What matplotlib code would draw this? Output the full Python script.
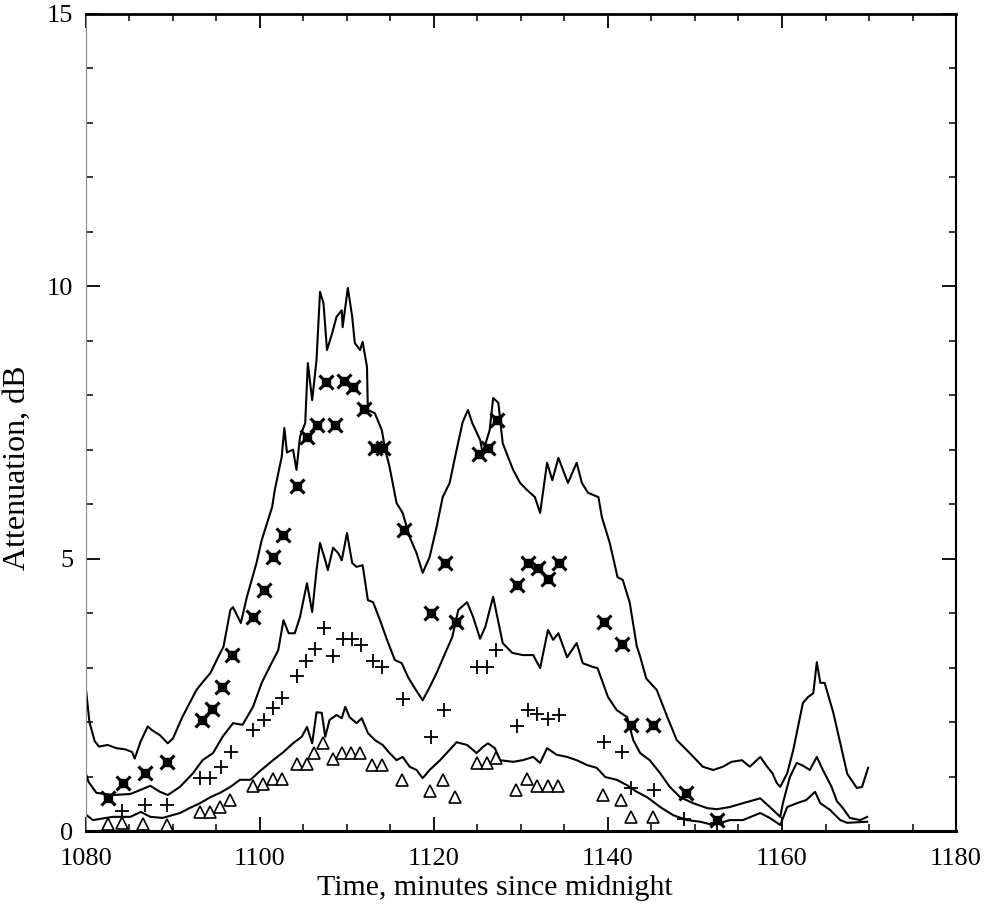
import matplotlib
matplotlib.use("Agg")
import matplotlib.pyplot as plt
from matplotlib.ticker import MultipleLocator

plt.rcParams['font.family'] = ['Liberation Serif', 'DejaVu Serif']

# ---- data: three attenuation traces ----
top_t = [1080.0, 1080.4, 1081.0, 1081.5, 1082.5, 1083.5, 1084.5, 1085.3, 1085.6, 1086.3, 1087.1, 1087.6,
         1088.5, 1089.4, 1090.0, 1091.1, 1092.7, 1093.5, 1094.3, 1095.4, 1095.8, 1096.6, 1096.9, 1097.4,
         1097.8, 1098.5, 1099.6, 1100.2, 1101.4, 1101.7, 1102.5, 1102.8, 1103.1, 1103.8, 1104.2, 1104.6,
         1105.2, 1105.5, 1106.0, 1106.5, 1106.9, 1107.3, 1107.7, 1108.3, 1108.8, 1109.4, 1109.5, 1110.1,
         1110.6, 1110.9, 1111.5, 1111.8, 1112.3, 1112.4, 1113.2, 1114.0, 1114.4, 1114.9, 1115.7, 1116.4,
         1117.2, 1118.0, 1118.7, 1119.5, 1120.3, 1121.0, 1121.8, 1122.6, 1123.3, 1123.9, 1124.4, 1125.3,
         1125.6, 1126.4, 1126.8, 1127.4, 1127.9, 1128.5, 1129.1, 1129.9, 1130.7, 1131.6, 1132.2, 1133.0,
         1133.6, 1134.3, 1135.4, 1136.4, 1137.0, 1137.7, 1138.9, 1139.3, 1140.2, 1141.1, 1141.7, 1142.5,
         1143.3, 1143.7, 1144.4, 1145.6, 1146.8, 1147.9, 1149.4, 1150.9, 1152.1, 1153.2, 1154.2, 1155.4,
         1156.3, 1157.5, 1158.3, 1158.9, 1159.4, 1159.8, 1160.6, 1161.3, 1162.4, 1163.0, 1163.6, 1164.0,
         1164.4, 1164.9, 1165.9, 1166.7, 1167.5, 1168.6, 1169.2, 1169.9]
top_v = [2.60, 2.00, 1.65, 1.55, 1.58, 1.52, 1.50, 1.45, 1.33, 1.65, 1.92, 1.85,
         1.76, 1.61, 1.70, 2.10, 2.59, 2.75, 2.90, 3.26, 3.38, 4.06, 4.11, 3.95,
         3.82, 4.30, 4.92, 5.34, 5.95, 6.26, 6.87, 7.40, 6.95, 7.00, 6.63, 7.24,
         7.49, 8.59, 7.91, 8.65, 9.90, 9.69, 8.83, 9.14, 9.44, 9.56, 9.25, 9.97,
         9.44, 8.96, 8.83, 8.98, 8.52, 7.73, 7.67, 7.36, 7.00, 6.68, 6.02, 5.84,
         5.40, 5.10, 4.74, 5.03, 5.58, 6.13, 6.39, 7.00, 7.51, 7.73, 7.49, 7.18,
         6.94, 7.36, 7.95, 7.86, 7.12, 6.87, 6.63, 6.39, 6.26, 6.13, 5.84, 6.76,
         6.44, 6.85, 6.39, 6.76, 6.39, 6.21, 6.13, 5.76, 5.29, 4.66, 4.61, 4.19,
         3.40, 3.20, 2.80, 2.59, 2.10, 1.67, 1.43, 1.18, 1.12, 1.18, 1.27, 1.30,
         1.18, 1.36, 1.18, 1.06, 0.88, 0.81, 1.06, 1.49, 2.35, 2.46, 2.53, 3.10,
         2.72, 2.72, 2.17, 1.61, 1.05, 0.79, 0.81, 1.16]

mid_t = [1080.0, 1080.3, 1081.2, 1083.1, 1085.1, 1086.2, 1087.4, 1088.5, 1089.4, 1090.8, 1092.3, 1093.4,
         1094.6, 1095.7, 1096.9, 1098.0, 1099.2, 1100.2, 1101.1, 1102.1, 1102.7, 1103.3, 1104.0, 1104.6,
         1105.4, 1106.0, 1106.5, 1106.9, 1107.5, 1107.8, 1108.4, 1109.0, 1109.4, 1110.0, 1110.6, 1111.1,
         1111.8, 1112.4, 1113.0, 1113.8, 1114.6, 1115.5, 1116.3, 1117.0, 1117.8, 1118.7, 1119.5, 1120.3,
         1121.3, 1122.1, 1122.8, 1123.8, 1124.5, 1125.3, 1125.9, 1126.8, 1127.9, 1129.0, 1130.2, 1131.4,
         1132.2, 1133.1, 1133.7, 1134.3, 1135.3, 1136.4, 1137.1, 1138.3, 1138.8, 1140.0, 1141.0, 1142.2,
         1142.9, 1143.7, 1144.8, 1146.0, 1147.1, 1148.3, 1149.8, 1151.4, 1152.5, 1154.0, 1155.5, 1157.5,
         1158.6, 1159.8, 1160.1, 1160.9, 1161.7, 1162.4, 1163.2, 1164.0, 1164.7, 1165.7, 1166.3, 1167.0,
         1167.8, 1169.0, 1169.8]
mid_v = [1.05, 0.90, 0.70, 0.66, 0.68, 0.75, 0.83, 0.72, 0.66, 0.81, 1.06, 1.30,
         1.43, 1.73, 1.98, 1.95, 2.28, 2.72, 3.01, 3.32, 3.87, 3.63, 3.63, 3.93,
         4.55, 4.02, 4.79, 5.29, 4.97, 4.79, 5.20, 5.10, 4.97, 5.47, 4.92, 4.85,
         4.88, 4.24, 4.20, 3.87, 3.51, 3.14, 3.08, 2.83, 2.62, 2.40, 2.64, 2.90,
         3.27, 3.56, 4.06, 4.20, 3.93, 3.53, 3.75, 4.30, 3.45, 3.27, 3.23, 3.23,
         2.99, 3.69, 3.51, 3.63, 3.19, 3.45, 3.08, 3.01, 2.99, 2.46, 2.22, 2.09,
         1.67, 1.43, 1.30, 1.06, 0.81, 0.62, 0.51, 0.42, 0.40, 0.44, 0.51, 0.60,
         0.44, 0.26, 0.51, 0.99, 1.25, 1.20, 1.12, 1.36, 1.12, 0.81, 0.55, 0.42,
         0.24, 0.20, 0.26]

low_t = [1080.0, 1080.8, 1083.1, 1085.1, 1086.3, 1087.4, 1088.8, 1090.8, 1091.9, 1093.1, 1094.3, 1095.4,
         1096.6, 1097.7, 1098.9, 1100.0, 1101.5, 1102.7, 1103.8, 1104.8, 1105.4, 1106.0, 1106.5, 1107.1,
         1107.5, 1108.0, 1108.8, 1109.4, 1109.8, 1110.3, 1111.1, 1111.7, 1112.4, 1113.2, 1114.1, 1114.9,
         1115.7, 1116.4, 1117.2, 1118.0, 1118.7, 1119.5, 1120.7, 1121.8, 1122.6, 1123.8, 1124.9, 1125.6,
         1126.2, 1127.0, 1127.6, 1129.1, 1130.2, 1131.4, 1132.2, 1133.0, 1134.1, 1135.3, 1136.4, 1137.6,
         1138.7, 1139.7, 1141.0, 1142.2, 1143.3, 1144.5, 1146.0, 1147.5, 1149.1, 1150.6, 1152.1, 1154.0,
         1155.5, 1157.5, 1158.6, 1159.8, 1160.6, 1161.7, 1162.8, 1163.8, 1164.4, 1165.5, 1166.7, 1167.5,
         1169.8]
low_v = [0.30, 0.20, 0.26, 0.26, 0.35, 0.26, 0.24, 0.33, 0.42, 0.51, 0.62, 0.70,
         0.81, 0.94, 0.94, 1.10, 1.30, 1.45, 1.61, 1.73, 1.91, 1.61, 2.18, 2.17,
         1.73, 2.04, 2.13, 2.07, 2.28, 2.09, 1.98, 2.07, 1.80, 1.67, 1.58, 1.43,
         1.30, 1.36, 1.18, 1.12, 0.97, 1.12, 1.30, 1.49, 1.63, 1.58, 1.43, 1.54,
         1.61, 1.52, 1.30, 1.27, 1.30, 1.36, 1.25, 1.52, 1.40, 1.36, 1.30, 1.21,
         1.16, 0.99, 0.94, 0.84, 0.72, 0.62, 0.44, 0.29, 0.20, 0.17, 0.11, 0.20,
         0.20, 0.33, 0.24, 0.11, 0.44, 0.51, 0.57, 0.72, 0.51, 0.39, 0.20, 0.15,
         0.17]

# ---- data: point series ----
star_t = [1082.5, 1084.3, 1086.8, 1089.3, 1093.3, 1094.5, 1095.6, 1096.8, 1099.2, 1100.5, 1101.5, 1102.7,
          1104.3, 1105.4, 1106.5, 1107.6, 1108.6, 1109.7, 1110.7, 1111.9, 1113.2, 1114.1, 1116.6, 1119.6,
          1121.3, 1122.5, 1125.2, 1126.2, 1127.2, 1129.5, 1130.8, 1132.0, 1133.1, 1134.4, 1139.5, 1141.6,
          1142.7, 1145.2, 1149.0, 1152.5]
star_v = [0.60, 0.88, 1.06, 1.26, 2.04, 2.24, 2.64, 3.24, 3.93, 4.43, 5.03, 5.43,
          6.33, 7.24, 7.45, 8.24, 7.45, 8.26, 8.15, 7.75, 7.03, 7.03, 5.53, 4.01,
          4.92, 3.83, 6.93, 7.03, 7.55, 4.52, 4.92, 4.83, 4.62, 4.92, 3.83, 3.43,
          1.94, 1.94, 0.70, 0.20]

plus_t = [1084.1, 1086.8, 1089.3, 1093.1, 1094.3, 1095.5, 1096.7, 1099.2, 1100.5, 1101.5, 1102.5, 1104.3,
          1105.3, 1106.3, 1107.4, 1108.4, 1109.5, 1110.6, 1111.6, 1113.0, 1114.0, 1116.4, 1119.6, 1121.1,
          1124.9, 1126.1, 1127.1, 1129.5, 1130.8, 1131.8, 1133.1, 1134.4, 1139.5, 1141.6, 1142.7, 1145.3,
          1148.7, 1152.5]
plus_v = [0.37, 0.48, 0.48, 0.97, 0.97, 1.17, 1.45, 1.85, 2.04, 2.26, 2.44, 2.85,
          3.12, 3.34, 3.73, 3.22, 3.52, 3.52, 3.42, 3.13, 3.01, 2.42, 1.73, 2.22,
          3.01, 3.01, 3.32, 1.93, 2.22, 2.15, 2.06, 2.13, 1.63, 1.45, 0.79, 0.76,
          0.22, 0.15]

tri_t = [1082.5, 1084.1, 1086.6, 1089.3, 1093.1, 1094.3, 1095.4, 1096.6, 1099.2, 1100.3, 1101.5, 1102.5,
         1104.3, 1105.4, 1106.2, 1107.2, 1108.4, 1109.4, 1110.5, 1111.5, 1112.9, 1114.0, 1116.3, 1119.5,
         1121.0, 1122.4, 1124.9, 1126.1, 1127.1, 1129.4, 1130.7, 1131.8, 1133.1, 1134.3, 1139.4, 1141.5,
         1142.6, 1145.2]
tri_v = [0.12, 0.14, 0.13, 0.11, 0.35, 0.35, 0.44, 0.57, 0.82, 0.86, 0.95, 0.95,
         1.23, 1.23, 1.44, 1.62, 1.32, 1.44, 1.44, 1.44, 1.22, 1.22, 0.94, 0.74,
         0.94, 0.62, 1.25, 1.25, 1.34, 0.75, 0.95, 0.83, 0.83, 0.83, 0.66, 0.57,
         0.26, 0.26]

x_ticks = [1080, 1100, 1120, 1140, 1160, 1180]
y_ticks = [0, 5, 10, 15]

fig = plt.figure(figsize=(9.87, 9.08), dpi=100)
ax = fig.add_axes([0.0871, 0.0848, 0.8815, 0.8998])

for t, v in [(top_t, top_v), (mid_t, mid_v), (low_t, low_v)]:
    ax.plot(t, v, color='black', lw=1.5, zorder=2)

ax.plot(star_t, star_v, ls='none', marker='s', ms=6, color='black', zorder=3)
ax.plot(star_t, star_v, ls='none', marker='x', ms=10, mew=2.2, color='black', zorder=3)
ax.plot(plus_t, plus_v, ls='none', marker='+', ms=10, mew=1.3, color='black', zorder=3)
ax.plot(tri_t, tri_v, ls='none', marker='^', ms=9, mew=1.2, mfc='white', mec='black', zorder=3)

ax.set_xlim(1080, 1180)
ax.set_ylim(0, 15)
ax.set_xticks(x_ticks)
ax.set_xticklabels([str(v) for v in x_ticks])
ax.set_yticks(y_ticks)
ax.set_yticklabels([str(v) for v in y_ticks])
ax.xaxis.set_minor_locator(MultipleLocator(5))
ax.yaxis.set_minor_locator(MultipleLocator(1))
ax.tick_params(which='major', direction='in', length=10, width=1.3, top=True, right=True,
               labelsize=19)
ax.tick_params(axis='x', which='major', pad=12)
ax.tick_params(axis='y', which='major', pad=9)
ax.tick_params(which='minor', direction='in', length=5, width=1.1, top=True, right=True)

ax.spines['bottom'].set_linewidth(2.2)
ax.spines['top'].set_linewidth(2.0)
ax.spines['right'].set_linewidth(1.5)
ax.spines['left'].set_linewidth(0.8)
ax.spines['left'].set_color('#888888')

ax.set_xlabel('Time, minutes since midnight', fontsize=21.5)
ax.xaxis.set_label_coords(0.470, -0.054)
ax.set_ylabel('Attenuation, dB', fontsize=23)
ax.yaxis.set_label_coords(-0.062, 0.445)

fig.savefig('out.png', dpi=100, facecolor='white')
